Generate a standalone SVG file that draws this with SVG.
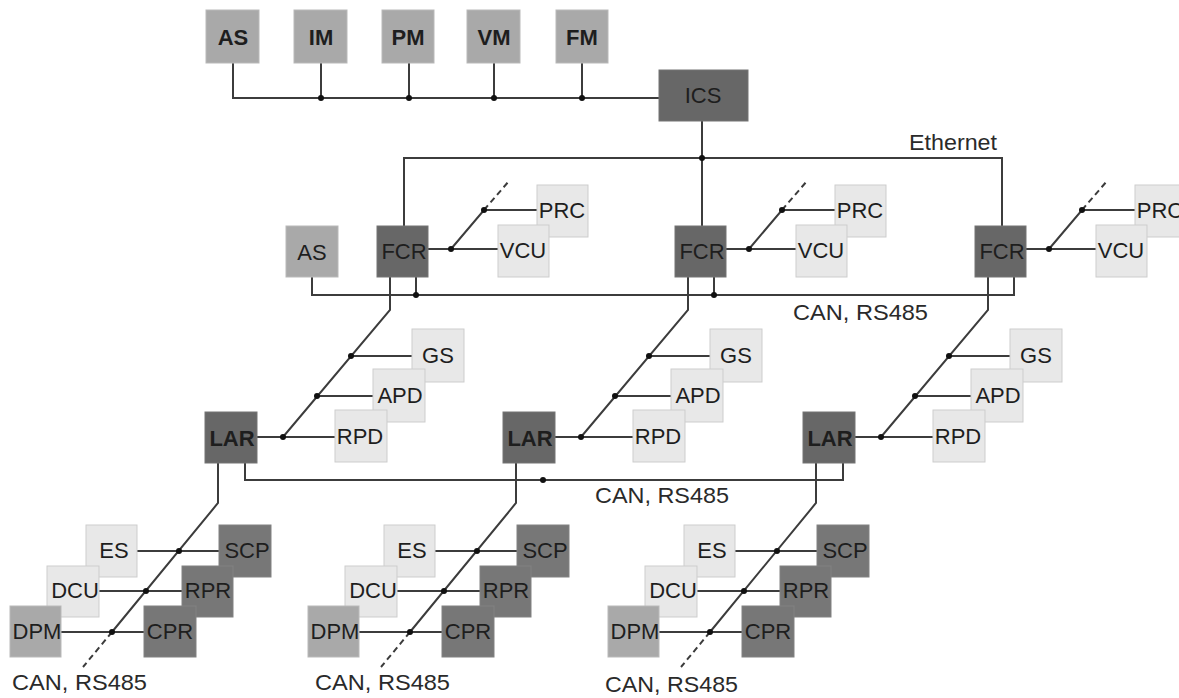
<svg xmlns="http://www.w3.org/2000/svg" width="1179" height="698" viewBox="0 0 1179 698">
<style>
.ln{fill:none;stroke:#3c3c3c;stroke-width:2}
.ds{fill:none;stroke:#3c3c3c;stroke-width:2;stroke-dasharray:6 4}
.dot{fill:#111}
.mid{fill:#a9a9a9;stroke:#b9b9b9;stroke-width:1}
.dk{fill:#676767;stroke:#747474;stroke-width:1}
.dk2{fill:#777;stroke:#828282;stroke-width:1}
.lt{fill:#e8e8e8;stroke:#cdcdcd;stroke-width:1}
text{font-family:"Liberation Sans",Arial,sans-serif;font-size:22px;fill:#1e1e1e;text-anchor:middle}
.b{font-weight:bold}
.lb{text-anchor:start;fill:#2a2a2a}
</style>
<rect width="1179" height="698" fill="#fff"/>
<g id="connectors">
<path class="ln" d="M233 63V98H659M321 63V98M409 63V98M494 63V98M582 63V98"/>
<path class="ln" d="M702 121V226M404 226V158H1002V226"/>
<path class="ln" d="M312 277V295H1014V277"/>
<path class="ln" d="M245 463V480H843V463"/>
<!-- module 0 -->
<path class="ln" d="M428 249H498M451 249L484 210H537M416 277V295M390 277V310L283 437M351 356H412M317 396H373M257 437H335M218 463V503L112 632M137 551H219M99 591H182M61 632H144"/>
<path class="ds" d="M484 210L509 181M112 632L83 667"/>
<!-- module 1 -->
<path class="ln" d="M726 249H796M749 249L782 210H835M714 277V295M688 277V310L581 437M649 356H710M615 396H671M555 437H633M516 463V503L410 632M435 551H517M397 591H480M359 632H442"/>
<path class="ds" d="M782 210L807 181M410 632L381 667"/>
<!-- module 2 -->
<path class="ln" d="M1026 249H1096M1049 249L1082 210H1135M988 277V310L881 437M949 356H1010M915 396H971M855 437H933M816 463V503L710 632M735 551H817M697 591H780M659 632H742"/>
<path class="ds" d="M1082 210L1107 181M710 632L681 667"/>
<g class="dot">
<circle cx="321" cy="98" r="3"/><circle cx="409" cy="98" r="3"/><circle cx="494" cy="98" r="3"/><circle cx="582" cy="98" r="3"/>
<circle cx="702" cy="158" r="3"/>
<circle cx="451" cy="249" r="3"/><circle cx="484" cy="210" r="3"/><circle cx="416" cy="295" r="3"/>
<circle cx="351" cy="356" r="3"/><circle cx="317" cy="396" r="3"/><circle cx="283" cy="437" r="3"/>
<circle cx="179" cy="551" r="3"/><circle cx="146" cy="591" r="3"/><circle cx="112" cy="632" r="3"/>
<circle cx="749" cy="249" r="3"/><circle cx="782" cy="210" r="3"/><circle cx="714" cy="295" r="3"/>
<circle cx="649" cy="356" r="3"/><circle cx="615" cy="396" r="3"/><circle cx="581" cy="437" r="3"/>
<circle cx="477" cy="551" r="3"/><circle cx="444" cy="591" r="3"/><circle cx="410" cy="632" r="3"/>
<circle cx="543" cy="480" r="3"/>
<circle cx="1049" cy="249" r="3"/><circle cx="1082" cy="210" r="3"/>
<circle cx="949" cy="356" r="3"/><circle cx="915" cy="396" r="3"/><circle cx="881" cy="437" r="3"/>
<circle cx="777" cy="551" r="3"/><circle cx="744" cy="591" r="3"/><circle cx="710" cy="632" r="3"/>
</g>
</g>
<g id="labels">
<text class="lb" x="909" y="150" textLength="88" lengthAdjust="spacingAndGlyphs">Ethernet</text>
<text class="lb" x="793" y="320" textLength="135" lengthAdjust="spacingAndGlyphs">CAN, RS485</text>
<text class="lb" x="595" y="503" textLength="134" lengthAdjust="spacingAndGlyphs">CAN, RS485</text>
<text class="lb" x="12" y="690" textLength="135" lengthAdjust="spacingAndGlyphs">CAN, RS485</text>
<text class="lb" x="315" y="690" textLength="135" lengthAdjust="spacingAndGlyphs">CAN, RS485</text>
<text class="lb" x="605" y="692" textLength="133" lengthAdjust="spacingAndGlyphs">CAN, RS485</text>
</g>
<!-- top row -->
<g id="AS_top"><rect class="mid" x="206" y="10" width="53" height="53"/><text class="b" x="233" y="45">AS</text></g>
<g id="IM"><rect class="mid" x="294" y="10" width="53" height="53"/><text class="b" x="321" y="45">IM</text></g>
<g id="PM"><rect class="mid" x="382" y="10" width="52" height="53"/><text class="b" x="408" y="45">PM</text></g>
<g id="VM"><rect class="mid" x="467" y="10" width="53" height="53"/><text class="b" x="494" y="45">VM</text></g>
<g id="FM"><rect class="mid" x="556" y="10" width="52" height="53"/><text class="b" x="582" y="45">FM</text></g>
<g id="ICS"><rect class="dk" x="659" y="70" width="89" height="51"/><text x="703" y="103">ICS</text></g>
<!-- FCR level -->
<g id="AS_fcr"><rect class="mid" x="286" y="226" width="52" height="51"/><text x="312" y="260">AS</text></g>
<g id="FCR1"><rect class="dk" x="377" y="226" width="51" height="51"/><text x="404" y="259">FCR</text></g>
<g id="PRC1"><rect class="lt" x="537" y="185" width="51" height="52"/><text x="562" y="218">PRC</text></g>
<g id="VCU1"><rect class="lt" x="498" y="225" width="51" height="52"/><text x="523" y="258">VCU</text></g>
<g id="FCR2"><rect class="dk" x="675" y="226" width="51" height="51"/><text x="702" y="259">FCR</text></g>
<g id="PRC2"><rect class="lt" x="835" y="185" width="51" height="52"/><text x="860" y="218">PRC</text></g>
<g id="VCU2"><rect class="lt" x="796" y="225" width="51" height="52"/><text x="821" y="258">VCU</text></g>
<g id="FCR3"><rect class="dk" x="975" y="226" width="51" height="51"/><text x="1002" y="259">FCR</text></g>
<g id="PRC3"><rect class="lt" x="1135" y="185" width="51" height="52"/><text x="1160" y="218">PRC</text></g>
<g id="VCU3"><rect class="lt" x="1096" y="225" width="51" height="52"/><text x="1121" y="258">VCU</text></g>
<!-- LAR level -->
<g id="GS1"><rect class="lt" x="412" y="329" width="52" height="53"/><text x="438" y="363">GS</text></g>
<g id="APD1"><rect class="lt" x="373" y="369" width="52" height="53"/><text x="400" y="403">APD</text></g>
<g id="RPD1"><rect class="lt" x="335" y="410" width="52" height="52"/><text x="360" y="444">RPD</text></g>
<g id="LAR1"><rect class="dk" x="205" y="412" width="52" height="51"/><text class="b" x="232" y="446">LAR</text></g>
<g id="GS2"><rect class="lt" x="710" y="329" width="52" height="53"/><text x="736" y="363">GS</text></g>
<g id="APD2"><rect class="lt" x="671" y="369" width="52" height="53"/><text x="698" y="403">APD</text></g>
<g id="RPD2"><rect class="lt" x="633" y="410" width="52" height="52"/><text x="658" y="444">RPD</text></g>
<g id="LAR2"><rect class="dk" x="503" y="412" width="52" height="51"/><text class="b" x="530" y="446">LAR</text></g>
<g id="GS3"><rect class="lt" x="1010" y="329" width="52" height="53"/><text x="1036" y="363">GS</text></g>
<g id="APD3"><rect class="lt" x="971" y="369" width="52" height="53"/><text x="998" y="403">APD</text></g>
<g id="RPD3"><rect class="lt" x="933" y="410" width="52" height="52"/><text x="958" y="444">RPD</text></g>
<g id="LAR3"><rect class="dk" x="803" y="412" width="52" height="51"/><text class="b" x="830" y="446">LAR</text></g>
<!-- bottom groups -->
<g id="ES1"><rect class="lt" x="86" y="525" width="51" height="52"/><text x="114" y="558">ES</text></g>
<g id="DCU1"><rect class="lt" x="47" y="566" width="52" height="51"/><text x="75" y="598">DCU</text></g>
<g id="DPM1"><rect class="mid" x="10" y="606" width="51" height="51"/><text x="37" y="639">DPM</text></g>
<g id="SCP1"><rect class="dk2" x="219" y="525" width="52" height="52"/><text x="247" y="558">SCP</text></g>
<g id="RPR1"><rect class="dk2" x="182" y="566" width="51" height="51"/><text x="208" y="598">RPR</text></g>
<g id="CPR1"><rect class="dk2" x="144" y="606" width="52" height="51"/><text x="170" y="639">CPR</text></g>
<g id="ES2"><rect class="lt" x="384" y="525" width="51" height="52"/><text x="412" y="558">ES</text></g>
<g id="DCU2"><rect class="lt" x="345" y="566" width="52" height="51"/><text x="373" y="598">DCU</text></g>
<g id="DPM2"><rect class="mid" x="308" y="606" width="51" height="51"/><text x="335" y="639">DPM</text></g>
<g id="SCP2"><rect class="dk2" x="517" y="525" width="52" height="52"/><text x="545" y="558">SCP</text></g>
<g id="RPR2"><rect class="dk2" x="480" y="566" width="51" height="51"/><text x="506" y="598">RPR</text></g>
<g id="CPR2"><rect class="dk2" x="442" y="606" width="52" height="51"/><text x="468" y="639">CPR</text></g>
<g id="ES3"><rect class="lt" x="684" y="525" width="51" height="52"/><text x="712" y="558">ES</text></g>
<g id="DCU3"><rect class="lt" x="645" y="566" width="52" height="51"/><text x="673" y="598">DCU</text></g>
<g id="DPM3"><rect class="mid" x="608" y="606" width="51" height="51"/><text x="635" y="639">DPM</text></g>
<g id="SCP3"><rect class="dk2" x="817" y="525" width="52" height="52"/><text x="845" y="558">SCP</text></g>
<g id="RPR3"><rect class="dk2" x="780" y="566" width="51" height="51"/><text x="806" y="598">RPR</text></g>
<g id="CPR3"><rect class="dk2" x="742" y="606" width="52" height="51"/><text x="768" y="639">CPR</text></g>
</svg>
